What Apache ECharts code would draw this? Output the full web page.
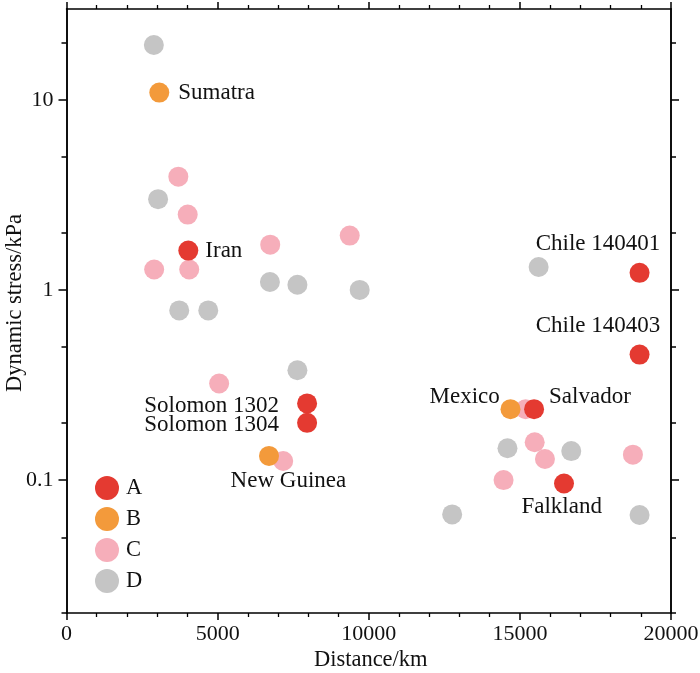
<!DOCTYPE html>
<html>
<head>
<meta charset="utf-8">
<script src="https://cdn.jsdelivr.net/npm/echarts@6/dist/echarts.min.js"></script>
<style>
html,body{margin:0;padding:0;background:#fff;}
#chart{width:700px;height:673px;}
</style>
</head>
<body>
<div id="chart"></div>
<script>
// ---- data ----
var groupNames = ['A', 'B', 'C', 'D'];
var groupColors = ['#E43A31', '#F39A3B', '#F6AEBA', '#C5C5C5'];

var groupA_x = [4030, 7960, 7960, 18960, 18960, 15470, 16460];
var groupA_y = [1.61, 0.253, 0.200, 1.23, 0.457, 0.236, 0.096];
var groupA_names = ['Iran', 'Solomon 1302', 'Solomon 1304', 'Chile 140401', 'Chile 140403', 'Salvador', 'Falkland'];

var groupB_x = [3070, 6700, 14690];
var groupB_y = [10.9, 0.134, 0.236];
var groupB_names = ['Sumatra', 'New Guinea', 'Mexico'];

var groupC_x = [3700, 4010, 2900, 4060, 6740, 9370, 5050, 7170, 15190, 15490, 15830, 18740, 14460];
var groupC_y = [3.94, 2.49, 1.28, 1.28, 1.73, 1.93, 0.322, 0.126, 0.236, 0.158, 0.129, 0.136, 0.100];

var groupD_x = [2890, 3030, 6730, 7640, 9700, 3730, 4690, 7640, 15620, 14590, 16700, 12760, 18960];
var groupD_y = [19.4, 3.0, 1.10, 1.065, 1.0, 0.78, 0.78, 0.378, 1.32, 0.147, 0.142, 0.066, 0.0655];

var xTickValues = [0, 5000, 10000, 15000, 20000];
var yMajorTicks = [0.1, 1, 10];
var yMinorTicks = [0.02, 0.05, 0.2, 0.5, 2, 5, 20];

// ---- label styling (offsets relative to symbol box) ----
var labelStyle = {
  'Sumatra': {position: 'right', distance: 9},
  'Iran': {position: 'right', distance: 7},
  'Chile 140401': {position: [30.7, -19], align: 'right', verticalAlign: 'middle'},
  'Chile 140403': {position: [30.7, -19], align: 'right', verticalAlign: 'middle'},
  'Mexico': {position: [-0.7, -2.3], align: 'right', verticalAlign: 'middle'},
  'Salvador': {position: [25, -2.3], align: 'left', verticalAlign: 'middle'},
  'Falkland': {position: [7.7, 33.4], align: 'center', verticalAlign: 'middle'},
  'Solomon 1302': {position: [-18, 12.4], align: 'right', verticalAlign: 'middle'},
  'Solomon 1304': {position: [-18, 12.3], align: 'right', verticalAlign: 'middle'},
  'New Guinea': {position: [29.4, 34.7], align: 'center', verticalAlign: 'middle'}
};

var FONT = 'Liberation Serif';

function buildData(xs, ys, names) {
  return xs.map(function (x, i) {
    var item = {value: [x, ys[i]]};
    if (names && names[i]) {
      item.name = names[i];
      var ls = labelStyle[names[i]];
      item.label = Object.assign({
        show: true,
        formatter: names[i],
        color: '#111',
        fontSize: 23,
        fontFamily: FONT
      }, ls);
    }
    return item;
  });
}

var datasets = [
  buildData(groupA_x, groupA_y, groupA_names),
  buildData(groupB_x, groupB_y, groupB_names),
  buildData(groupC_x, groupC_y, null),
  buildData(groupD_x, groupD_y, null)
];

var series = groupNames.map(function (n, i) {
  return {
    name: n,
    type: 'scatter',
    symbol: 'circle',
    symbolSize: 20,
    xAxisIndex: 0,
    yAxisIndex: 0,
    z: 10 - i,
    itemStyle: {color: groupColors[i], opacity: 1},
    emphasis: {disabled: true},
    data: datasets[i]
  };
});

var axisLineStyle = {color: '#000', width: 1.5};

function xAxisDef(pos, showLabel) {
  return {
    type: 'value',
    position: pos,
    min: 0,
    max: 20000,
    interval: 5000,
    name: showLabel ? 'Distance/km' : '',
    nameLocation: 'middle',
    nameGap: 36,
    nameMoveOverlap: false,
    nameTextStyle: {fontSize: 22.5, fontFamily: FONT, color: '#111', padding: [0, 0, 0, 4]},
    axisLine: {show: true, onZero: false, lineStyle: axisLineStyle},
    axisTick: {show: true, inside: false, length: 7, lineStyle: axisLineStyle},
    minorTick: {show: true, splitNumber: 5, length: 4, lineStyle: {color: '#000', width: 1.3}},
    axisLabel: {show: showLabel, fontSize: 22, fontFamily: FONT, color: '#111', margin: 10,
      formatter: function (v) { return String(v); }},
    splitLine: {show: false},
    minorSplitLine: {show: false}
  };
}

function yAxisDef(pos, major, showLabel) {
  return {
    type: 'log',
    logBase: 10,
    position: pos,
    min: 0.02,
    max: 30,
    name: showLabel ? 'Dynamic stress/kPa' : '',
    nameLocation: 'middle',
    nameGap: 40,
    nameMoveOverlap: false,
    nameTextStyle: {fontSize: 22.5, fontFamily: FONT, color: '#111', padding: [0, 0, 0, 16]},
    axisLine: {show: true, onZero: false, lineStyle: axisLineStyle},
    axisTick: {show: true, inside: false, length: major ? 8 : 5,
      customValues: major ? yMajorTicks : yMinorTicks, lineStyle: axisLineStyle},
    axisLabel: {show: showLabel, customValues: yMajorTicks, fontSize: 22, fontFamily: FONT,
      color: '#111', margin: 13,
      formatter: function (v) { return String(Math.round(v * 1000) / 1000); }},
    splitLine: {show: false}
  };
}

var chart = echarts.init(document.getElementById('chart'), null, {renderer: 'canvas'});
chart.setOption({
  animation: false,
  backgroundColor: '#fff',
  grid: {left: 66.5, right: 29, top: 9, bottom: 60, containLabel: false, outerBoundsMode: 'none'},
  legend: {
    orient: 'vertical',
    left: 95,
    top: 476,
    padding: 0,
    itemWidth: 24,
    itemHeight: 24,
    itemGap: 7,
    icon: 'circle',
    data: groupNames,
    textStyle: {fontSize: 22.5, fontFamily: FONT, color: '#111', padding: [0, 0, 0, 2]}
  },
  xAxis: [xAxisDef('bottom', true), xAxisDef('top', false)],
  yAxis: [yAxisDef('left', true, true), yAxisDef('left', false, false),
          yAxisDef('right', true, false), yAxisDef('right', false, false)],
  series: series
});
</script>
</body>
</html>
